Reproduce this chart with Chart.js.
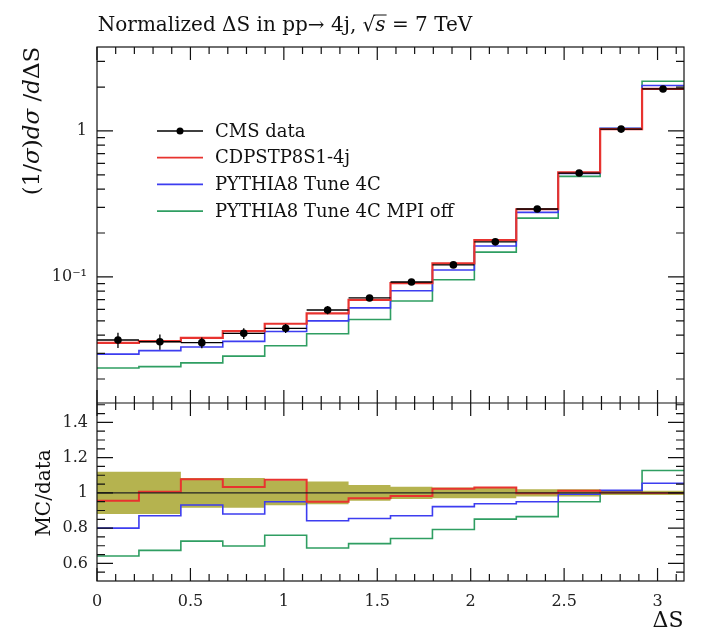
<!DOCTYPE html>
<html lang="en">
<head>
<meta charset="UTF-8">
<title>Normalized ΔS in pp → 4j</title>
<script src="https://cdn.jsdelivr.net/npm/chart.js"></script>
<style>
  body { margin: 0; background: #fff; }
  #wrap { width: 703px; height: 635px; }
</style>
</head>
<body>
<div id="wrap"><canvas id="chart" width="703" height="635"></canvas></div>
<script>
// bins of ΔS (0..pi in 14 bins)
const binEdges = [0, 0.2244, 0.4488, 0.6732, 0.8976, 1.1220, 1.3464, 1.5708,
                  1.7952, 2.0196, 2.2440, 2.4684, 2.6928, 2.9172, 3.1416];

// (1/sigma) dsigma/dDeltaS
const cmsData  = [0.0370, 0.0360, 0.0355, 0.0411, 0.0445, 0.0594, 0.0718, 0.0924, 0.121, 0.174, 0.292, 0.515, 1.03, 1.94];
const cmsRelErr = [0.12, 0.12, 0.085, 0.085, 0.07, 0.065, 0.045, 0.035, 0.03, 0.03, 0.02, 0.02, 0.012, 0.012];
const cdpsMC   = [0.0354, 0.0363, 0.0383, 0.0425, 0.0478, 0.0564, 0.0696, 0.0908, 0.1238, 0.179, 0.291, 0.521, 1.03, 1.94];
const tune4cMC = [0.0296, 0.0313, 0.0331, 0.0362, 0.0423, 0.0500, 0.0614, 0.0804, 0.1116, 0.163, 0.277, 0.511, 1.045, 2.05];
const mpiOffMC = [0.0238, 0.0243, 0.0258, 0.0287, 0.0338, 0.0408, 0.0511, 0.0685, 0.0958, 0.148, 0.253, 0.489, 1.04, 2.19];

// MC / data
const cdpsRatio   = [0.956, 1.007, 1.078, 1.033, 1.074, 0.950, 0.970, 0.983, 1.023, 1.030, 0.998, 1.012, 1.002, 1.000];
const tune4cRatio = [0.800, 0.870, 0.931, 0.880, 0.950, 0.842, 0.855, 0.870, 0.922, 0.938, 0.950, 0.992, 1.015, 1.055];
const mpiOffRatio = [0.642, 0.674, 0.726, 0.699, 0.760, 0.687, 0.712, 0.741, 0.792, 0.851, 0.865, 0.950, 1.010, 1.127];

const xTicks = [0, 0.5, 1, 1.5, 2, 2.5, 3];
const xTickLabels = ['0', '0.5', '1', '1.5', '2', '2.5', '3'];
const yTicks = [0.1, 1];
const yTickLabels = ['10\u207B\u00B9', '1'];
const rTicks = [0.6, 0.8, 1, 1.2, 1.4];
const rTickLabels = ['0.6', '0.8', '1', '1.2', '1.4'];

const legendLabels = ['CMS data', 'CDPSTP8S1-4j', 'PYTHIA8 Tune 4C', 'PYTHIA8 Tune 4C MPI off'];
const RED = '#e8332f', BLUE = '#3d3df0', GREEN = '#2f9e62', BAND = '#b5b34f';
const legendColors = ['#000', RED, BLUE, GREEN];
const SERIF = '"DejaVu Serif", "Liberation Serif", serif';

function steps(vals) {
    const pts = vals.map((v, i) => ({ x: binEdges[i], y: v }));
    pts.push({ x: binEdges[binEdges.length - 1], y: vals[vals.length - 1] });
    return pts;
}
const centers = cmsData.map((v, i) => ({ x: (binEdges[i] + binEdges[i + 1]) / 2, y: v }));

function drawRuns(ctx, runs, x, y, size) {
    let total = 0;
    runs.forEach(([t, it]) => {
        ctx.font = (it ? 'italic ' : '') + size + 'px ' + SERIF;
        total += ctx.measureText(t).width;
    });
    let cx = x - total / 2;
    const pos = [];
    runs.forEach(([t, it]) => {
        ctx.font = (it ? 'italic ' : '') + size + 'px ' + SERIF;
        const w = ctx.measureText(t).width;
        ctx.fillText(t, cx, y);
        pos.push([cx, w]);
        cx += w;
    });
    return pos;
}

const frame = {
    id: 'frame',
    afterDatasetsDraw(chart) {
        const { ctx, chartArea: a } = chart;
        const x = chart.scales.x, y = chart.scales.y, r = chart.scales.yRatio;
        ctx.save();
        ctx.strokeStyle = '#111';
        ctx.lineWidth = 1.2;
        ctx.beginPath();
        for (let k = 0; k <= 31; k++) {
            const px = x.getPixelForValue(k / 10);
            const len = k % 5 === 0 ? 13 : 7;
            [[y.top, y.bottom], [r.top, r.bottom]].forEach(([t, b]) => {
                ctx.moveTo(px, t); ctx.lineTo(px, t + len);
                ctx.moveTo(px, b); ctx.lineTo(px, b - len);
            });
        }
        for (let e = -2; e <= 0; e++) {
            for (let m = 1; m <= 9; m++) {
                const v = m * Math.pow(10, e);
                if (v < y.min || v > y.max) continue;
                const py = y.getPixelForValue(v);
                const len = m === 1 ? 16 : 8;
                ctx.moveTo(a.left, py); ctx.lineTo(a.left + len, py);
                ctx.moveTo(a.right, py); ctx.lineTo(a.right - len, py);
            }
        }
        for (let k = 11; k <= 30; k++) {
            const py = r.getPixelForValue(k * 0.05);
            const len = k % 4 === 0 ? 16 : 8;
            ctx.moveTo(a.left, py); ctx.lineTo(a.left + len, py);
            ctx.moveTo(a.right, py); ctx.lineTo(a.right - len, py);
        }
        ctx.moveTo(a.left, y.bottom); ctx.lineTo(a.right, y.bottom);
        ctx.stroke();
        ctx.strokeRect(a.left, a.top, a.right - a.left, a.bottom - a.top);

        // data error bars
        ctx.strokeStyle = '#000';
        ctx.lineWidth = 1.3;
        ctx.beginPath();
        cmsData.forEach((v, i) => {
            const py = y.getPixelForValue(v);
            ctx.moveTo(x.getPixelForValue(binEdges[i]), py);
            ctx.lineTo(x.getPixelForValue(binEdges[i + 1]), py);
            const cx = x.getPixelForValue(centers[i].x);
            ctx.moveTo(cx, y.getPixelForValue(v * (1 - cmsRelErr[i])));
            ctx.lineTo(cx, y.getPixelForValue(v * (1 + cmsRelErr[i])));
        });
        ctx.stroke();

        // legend
        ctx.textBaseline = 'middle';
        ctx.textAlign = 'left';
        ctx.fillStyle = '#111';
        legendLabels.forEach((lab, i) => {
            const ly = 131 + i * 26.7;
            ctx.strokeStyle = legendColors[i];
            ctx.lineWidth = i === 0 ? 1.3 : 1.8;
            ctx.beginPath();
            ctx.moveTo(157, ly); ctx.lineTo(203, ly);
            ctx.stroke();
            if (i === 0) {
                ctx.beginPath();
                ctx.arc(180, ly, 3.5, 0, Math.PI * 2);
                ctx.fillStyle = '#000';
                ctx.fill();
                ctx.fillStyle = '#111';
            }
            ctx.font = '18px ' + SERIF;
            ctx.fillText(lab, 215, ly + 1);
        });

        // title and axis titles
        ctx.textBaseline = 'alphabetic';
        const tp = drawRuns(ctx, [['Normalized \u0394S in pp\u2192 4j, ', false], ['\u221A', false], ['s', true], [' = 7 TeV', false]], 285, 31, 20);
        ctx.strokeStyle = '#111';
        ctx.lineWidth = 1;
        ctx.beginPath();
        ctx.moveTo(tp[1][0] + tp[1][1] * 0.85, 31 - 20 * 0.8);
        ctx.lineTo(tp[2][0] + tp[2][1] + 1, 31 - 20 * 0.8);
        ctx.stroke();

        ctx.save();
        ctx.translate(39, 121);
        ctx.rotate(-Math.PI / 2);
        drawRuns(ctx, [['(1/', false], ['\u03C3', true], [')', false], ['d\u03C3', true], [' /', false], ['d', true], ['\u0394S', false]], 0, 0, 23);
        ctx.restore();

        ctx.save();
        ctx.translate(50, 493);
        ctx.rotate(-Math.PI / 2);
        drawRuns(ctx, [['MC/data', false]], 0, 0, 20);
        ctx.restore();

        drawRuns(ctx, [['\u0394S', false]], 668, 627, 22);
        ctx.restore();
    }
};

const histLine = (vals, color, axis, w) => ({
    data: steps(vals), yAxisID: axis, stepped: true, borderColor: color,
    borderWidth: w, pointRadius: 0, fill: false, order: 1
});

new Chart(document.getElementById('chart'), {
    type: 'line',
    data: {
        datasets: [
            { data: centers, yAxisID: 'y', showLine: false, pointRadius: 3.8,
              pointBackgroundColor: '#000', pointBorderWidth: 0, order: 0 },
            histLine(cdpsMC, RED, 'y', 2.2),
            histLine(tune4cMC, BLUE, 'y', 1.6),
            histLine(mpiOffMC, GREEN, 'y', 1.6),
            histLine([1, 1], '#222', 'yRatio', 1.4),
            histLine(cdpsRatio, RED, 'yRatio', 2),
            histLine(tune4cRatio, BLUE, 'yRatio', 1.6),
            histLine(mpiOffRatio, GREEN, 'yRatio', 1.6),
            { data: steps(cmsRelErr.map(e => 1 + e)), yAxisID: 'yRatio', stepped: true, borderWidth: 0,
              pointRadius: 0, backgroundColor: BAND, fill: '+1', order: 5 },
            { data: steps(cmsRelErr.map(e => 1 - e)), yAxisID: 'yRatio', stepped: true, borderWidth: 0,
              pointRadius: 0, fill: false, order: 5 }
        ]
    },
    options: {
        responsive: false,
        animation: false,
        devicePixelRatio: 1,
        layout: { padding: { top: 47, right: 19, bottom: 0, left: 0 } },
        plugins: { legend: { display: false }, tooltip: { enabled: false } },
        scales: {
            x: {
                type: 'linear', min: 0, max: Math.PI,
                grid: { display: false, drawTicks: false }, border: { display: false },
                afterBuildTicks: s => { s.ticks = xTicks.map(v => ({ value: v })); },
                afterFit: s => { s.height = 54; },
                ticks: { padding: 11, color: '#222', font: { family: SERIF, size: 16 },
                         maxRotation: 0, autoSkip: false, callback: (v, i) => xTickLabels[i] }
            },
            yRatio: {
                type: 'linear', axis: 'y', position: 'left', stack: 'panels', stackWeight: 1,
                min: 0.5, max: 1.51,
                grid: { display: false, drawTicks: false }, border: { display: false },
                afterBuildTicks: s => { s.ticks = rTicks.map(v => ({ value: v })); },
                afterFit: s => { s.width = 97; },
                ticks: { padding: 9, color: '#222', font: { family: SERIF, size: 16 },
                         autoSkip: false, callback: (v, i) => rTickLabels[i] }
            },
            y: {
                type: 'logarithmic', position: 'left', stack: 'panels', stackWeight: 2,
                min: 0.0137, max: 3.76,
                grid: { display: false, drawTicks: false }, border: { display: false },
                afterBuildTicks: s => { s.ticks = yTicks.map(v => ({ value: v })); },
                afterFit: s => { s.width = 97; },
                ticks: { padding: 10, color: '#222', font: { family: SERIF, size: 16 },
                         autoSkip: false, callback: (v, i) => yTickLabels[i] }
            }
        }
    },
    plugins: [frame]
});
</script>
</body>
</html>
